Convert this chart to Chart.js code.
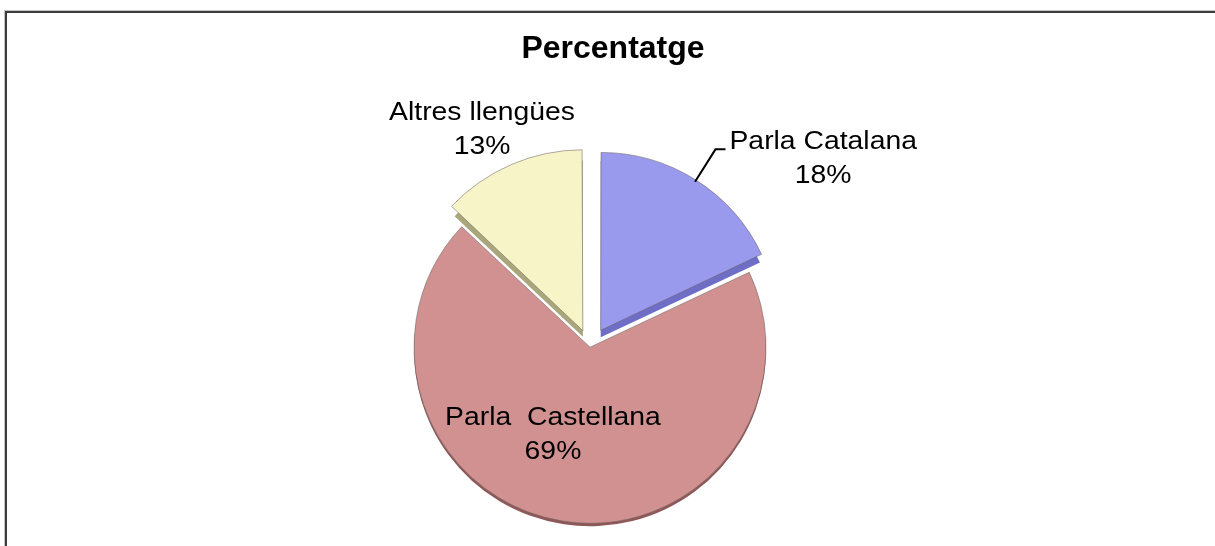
<!DOCTYPE html>
<html>
<head>
<meta charset="utf-8">
<script src="https://cdn.jsdelivr.net/npm/chart.js@4/dist/chart.umd.min.js"></script>
<style>
  html, body { margin: 0; padding: 0; background: #fff; overflow: hidden; }
  #frame {
    position: absolute; left: 5px; top: 11px;
    width: 1240px; height: 560px;
    border: 2px solid #3c3c3c;
    box-shadow: -1px -1px 0 #c4c4c4;
  }
  #chart { position: absolute; left: 0; top: 0; }
</style>
</head>
<body>
<div id="frame"></div>
<canvas id="chart" width="1215" height="546"></canvas>
<script>
// data
const categories = ['Parla Catalana', 'Parla  Castellana', 'Altres llengües'];
const percentages = [18, 69, 13];

const fills = ['#9999ee', '#d19191', '#f7f5c8'];
const sides = ['#6e6ec6', '#8e5858', '#aaa67c'];
const depths = [7, 3, 6];
const offsets = [80, 0, 72];

// where each label goes: angle turned from the slice middle (deg), distance in radii
const labelPlacement = [
  { turn: 18.6, dist: 1.705, leader: true },
  { turn: 13.8, dist: 0.543, leader: false },
  { turn: -3, dist: 1.38, leader: false }
];

function arcCenter(arc, i) {
  const p = arc.getProps(['x', 'y', 'startAngle', 'endAngle', 'outerRadius'], true);
  const half = (p.startAngle + p.endAngle) / 2;
  const shift = offsets[i] / 4;
  return {
    cx: p.x + Math.cos(half) * shift,
    cy: p.y + Math.sin(half) * shift,
    px: p.x, py: p.y,
    half, r: p.outerRadius,
    start: p.startAngle, end: p.endAngle
  };
}

// empty box on the right so the pie sits left of the title's centre
const rightSpacer = {
  id: 'rightSpacer',
  beforeInit(chart) {
    Chart.layouts.addBox(chart, {
      position: 'right', weight: 0, fullSize: false, options: {},
      width: 0, height: 0, left: 0, top: 0, right: 0, bottom: 0,
      isHorizontal() { return false; },
      update(maxWidth, maxHeight) { this.width = 46; this.height = maxHeight; },
      draw() {}
    });
  }
};

// darker copy under each slice gives the tilted pie its thickness
const pieSides = {
  id: 'pieSides',
  beforeDatasetsDraw(chart) {
    const ctx = chart.ctx;
    chart.getDatasetMeta(0).data.forEach((arc, i) => {
      const a = arcCenter(arc, i);
      ctx.save();
      ctx.translate(0, depths[i]);
      ctx.beginPath();
      ctx.moveTo(a.cx, a.cy);
      ctx.arc(a.cx, a.cy, a.r, a.start, a.end);
      ctx.closePath();
      ctx.fillStyle = sides[i];
      ctx.fill();
      ctx.restore();
    });
  }
};

const sliceLabels = {
  id: 'sliceLabels',
  afterDatasetsDraw(chart) {
    const ctx = chart.ctx;
    const lineGap = 34;
    const stretch = 1.09;
    chart.getDatasetMeta(0).data.forEach((arc, i) => {
      const a = arcCenter(arc, i);
      const pl = labelPlacement[i];
      const ang = a.half + pl.turn * Math.PI / 180;
      const lx = a.px + Math.cos(ang) * a.r * pl.dist;
      const ly = a.py + Math.sin(ang) * a.r * pl.dist;
      const lines = [categories[i], percentages[i] + '%'];

      ctx.save();
      ctx.font = '26px "Liberation Sans", Arial, sans-serif';
      ctx.fillStyle = '#000';
      ctx.textAlign = 'center';
      ctx.textBaseline = 'middle';
      lines.forEach((t, k) => {
        ctx.save();
        ctx.translate(lx, ly + (k - 0.5) * lineGap);
        ctx.scale(stretch, 1);
        ctx.fillText(t, 0, 0);
        ctx.restore();
      });

      if (pl.leader) {
        const w = ctx.measureText(lines[0]).width * stretch;
        const sx = a.cx + Math.cos(a.half) * a.r;
        const sy = a.cy + Math.sin(a.half) * a.r;
        const ex = lx - w / 2 - 4;
        const ey = ly - lineGap / 2 + 8;
        ctx.beginPath();
        ctx.moveTo(sx, sy);
        ctx.lineTo(ex - 10, ey);
        ctx.lineTo(ex, ey);
        ctx.strokeStyle = '#000';
        ctx.lineWidth = 2;
        ctx.stroke();
      }
      ctx.restore();
    });
  }
};

new Chart(document.getElementById('chart'), {
  type: 'pie',
  data: {
    labels: categories,
    datasets: [{
      data: percentages,
      backgroundColor: fills,
      borderColor: 'rgba(110,100,100,0.55)',
      borderWidth: 1,
      offset: offsets
    }]
  },
  options: {
    responsive: false,
    animation: false,
    events: [],
    radius: 176,
    rotation: 0,
    layout: {
      padding: { left: 11, right: 0, top: 0, bottom: 0 }
    },
    plugins: {
      legend: { display: false },
      tooltip: { enabled: false },
      title: {
        display: true,
        text: 'Percentatge',
        color: '#000',
        font: { family: '"Liberation Sans", Arial, sans-serif', size: 32, weight: 'bold' },
        padding: { top: 30, bottom: 80 }
      }
    }
  },
  plugins: [rightSpacer, pieSides, sliceLabels]
});
</script>
</body>
</html>
